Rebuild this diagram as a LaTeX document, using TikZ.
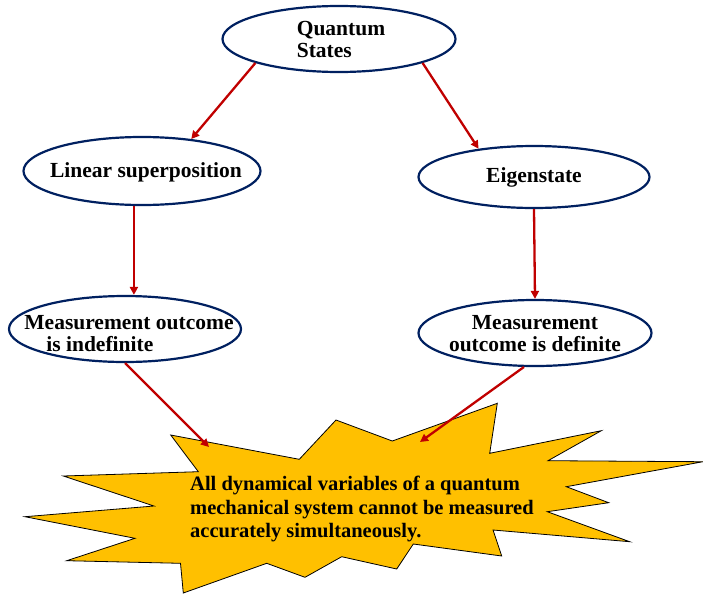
\documentclass[tikz,border=0pt]{standalone}
\usepackage{fontspec}
\setmainfont{Liberation Serif}
\usetikzlibrary{arrows.meta,shapes.geometric}

\definecolor{navyline}{RGB}{0,32,96}
\definecolor{redline}{RGB}{192,0,0}
\definecolor{burstfill}{RGB}{255,192,0}

\begin{document}
\begin{tikzpicture}[x=1pt,y=-1pt,
    state/.style={ellipse, draw=navyline, line width=2.2pt, fill=white, inner sep=0pt},
    statetext/.style={inner sep=0pt, font=\bfseries\fontsize{21.5}{22}\selectfont, align=center},
    link/.style={draw=redline, line width=2.3pt, -{Triangle[length=8pt,width=8pt]}}]

    % Fix the page size
    \useasboundingbox (0,0) rectangle (703,597);

    % Draw the burst shape
    \draw[fill=burstfill, line width=0.8pt, line join=miter]
        (170.7,435) -- (299.3,459.3) -- (336,420) -- (392.3,441) -- (497.3,403.3)
        -- (489.7,453.3) -- (601.3,430.7) -- (548,460.7) -- (703,461.7) -- (566.3,486.7)
        -- (608.7,502.7) -- (547.3,511.7) -- (629.7,541.7) -- (493,530) -- (501.7,556)
        -- (413.3,544) -- (396.7,569) -- (341.7,556.7) -- (305,577.3) -- (266.7,563.3)
        -- (183.3,593) -- (180.5,563.3) -- (66.7,560.7) -- (135,538.3) -- (25,516.7)
        -- (154,506) -- (63.3,476) -- (198.3,471.7) -- cycle;

    % Text inside the burst
    \node[anchor=west, align=left, inner sep=0pt,
        font=\bfseries\fontsize{20.5}{23.3}\selectfont] (claim) at (190,509)
        {All dynamical variables of a quantum\\mechanical system cannot be measured\\accurately simultaneously.};

    % Define the ellipses
    \node[state, minimum width=233pt, minimum height=66pt] (qs) at (339,39) {};
    \node[state, minimum width=237pt, minimum height=68pt] (lin) at (142,171) {};
    \node[state, minimum width=231pt, minimum height=62pt] (eig) at (534,177) {};
    \node[state, minimum width=232pt, minimum height=66pt] (ind) at (125,329) {};
    \node[state, minimum width=233pt, minimum height=66pt] (def) at (535,333) {};

    % Texts of the ellipses
    \node[statetext, align=left] (qstext) at ([xshift=2pt]qs) {Quantum\\States};
    \node[statetext] (lintext) at ([xshift=4pt,yshift=-1pt]lin) {Linear superposition};
    \node[statetext] (eigtext) at (eig) {Eigenstate};
    \node[statetext, align=left] (indtext) at ([xshift=4pt,yshift=-5pt]ind)
        {Measurement outcome\\\hspace{22pt}is indefinite};
    \node[statetext] (deftext) at ([yshift=-1pt]def) {Measurement\\outcome is definite};

    % Points where the arrows meet the burst
    \coordinate (hitL) at (209,447);
    \coordinate (hitR) at (420,442);

    % Draw the arrows
    \draw[link] (qs.196) -- (lin.33);
    \draw[link] (qs.344) -- (eig.153);
    \draw[link] (lin.257) -- (lin.257 |- ind.north);
    \draw[link] (eig.south) -- (def.north);
    \draw[link] (ind.south) -- (hitL);
    \draw[link] (def.252) -- (hitR);

\end{tikzpicture}
\end{document}
